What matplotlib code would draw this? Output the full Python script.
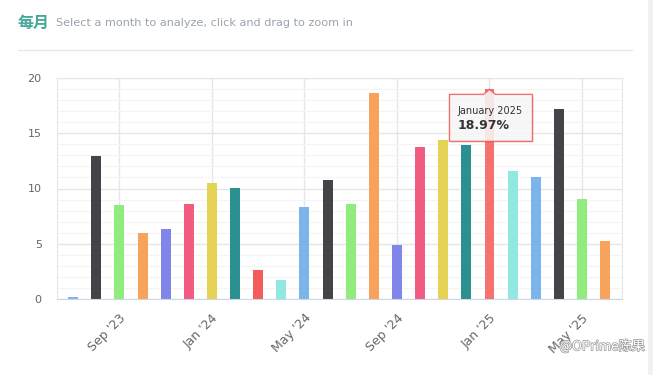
import matplotlib
matplotlib.use('Agg')
import matplotlib.pyplot as plt
import matplotlib.patheffects as pe
from matplotlib.patches import Polygon, Rectangle
from matplotlib.lines import Line2D
import numpy as np

# monthly values, Jul 2023 .. Jun 2025
months = ['July 2023', 'August 2023', 'September 2023', 'October 2023', 'November 2023',
          'December 2023', 'January 2024', 'February 2024', 'March 2024', 'April 2024',
          'May 2024', 'June 2024', 'July 2024', 'August 2024', 'September 2024',
          'October 2024', 'November 2024', 'December 2024', 'January 2025', 'February 2025',
          'March 2025', 'April 2025', 'May 2025', 'June 2025']
values = [0.2, 12.9, 8.55, 6.0, 6.35, 8.6, 10.5, 10.05, 2.65, 1.72, 8.35, 10.8,
          8.6, 18.65, 4.9, 13.8, 14.4, 13.9, 18.97, 11.6, 11.08, 17.2, 9.05, 5.25]
tick_pos = [2, 6, 10, 14, 18, 22]
tick_labels = ["Sep '23", "Jan '24", "May '24", "Sep '24", "Jan '25", "May '25"]
palette = ['#7cb5ec', '#434348', '#90ed7d', '#f7a35c', '#8085e9',
           '#f15c80', '#e4d354', '#2b908f', '#f45b5b', '#91e8e1']
hover_idx = 18

W, H = 653, 375
fig = plt.figure(figsize=(W / 100, H / 100), dpi=100)
fig.patch.set_facecolor('white')

ax = fig.add_axes([57 / W, 1 - 299 / H, (622 - 57) / W, (299 - 78) / H])
x = np.arange(len(values))
colors = [palette[i % len(palette)] for i in range(len(values))]
colors[hover_idx] = '#f7716e'
ax.bar(x, values, width=0.43, color=colors, zorder=3)

ax.set_xlim(-0.7, len(values) - 0.27)
ax.set_ylim(0, 20)
ax.set_yticks([0, 5, 10, 15, 20])
ax.set_yticks(np.arange(0, 21, 1), minor=True)
ax.set_xticks(tick_pos)
ax.set_xticklabels(tick_labels, rotation=45, ha='right', va='top',
                   rotation_mode='anchor', fontsize=9, color='#666666')
ax.tick_params(axis='x', length=0, pad=9)
ax.tick_params(axis='y', which='both', length=0, pad=11, labelsize=8, labelcolor='#666666')
ax.grid(axis='y', which='major', color='#e6e6e6', lw=1, zorder=0)
ax.grid(axis='y', which='minor', color='#f4f4f4', lw=0.8, zorder=0)
ax.grid(axis='x', which='major', color='#e6e6e6', lw=1, zorder=0)
for s in ['top', 'left', 'right']:
    ax.spines[s].set_color('#e6e6e6')
ax.spines['bottom'].set_color('#ccd6eb')
ax.spines['bottom'].set_zorder(4)

# header
fig.text(18 / W, 1 - 23 / H, '每月', fontsize=11.5, fontweight='bold', color='#45a99a',
         family=['Noto Sans CJK SC', 'DejaVu Sans'], va='center', ha='left')
fig.text(56 / W, 1 - 23 / H, 'Select a month to analyze, click and drag to zoom in',
         fontsize=8.1, color='#9aa3ad', va='center', ha='left')
fig.add_artist(Line2D([18 / W, 632 / W], [1 - 50 / H, 1 - 50 / H], color='#e8e8e8', lw=1))
fig.add_artist(Rectangle((648 / W, 0), 5 / W, 1, color='#f1f1f1', lw=0,
                         transform=fig.transFigure))

# tooltip for the hovered month
fig.canvas.draw()
tx, ty = ax.transData.transform((hover_idx, values[hover_idx]))
top = ty - 5
bot = ty - 52
left = tx - 40
right = tx + 43
pts = [(left, top), (tx - 6, top), (tx, ty), (tx + 6, top), (right, top),
       (right, bot), (left, bot)]
fig.add_artist(Polygon([(px + 1.5, py - 1.5) for px, py in pts], closed=True,
                       transform=None, facecolor='#000000', alpha=0.06, lw=0))
fig.add_artist(Polygon(pts, closed=True, transform=None, facecolor='#f8f8f8',
                       alpha=0.88, edgecolor='#f45b5b', lw=1))
fig.text((left + 8) / W, (ty - 22) / H, months[hover_idx], fontsize=7, color='#333333',
         va='center', ha='left')
fig.text((left + 8) / W, (ty - 36) / H, f'{values[hover_idx]:.2f}%', fontsize=9,
         fontweight='bold', color='#333333', va='center', ha='left')

# watermark
fig.text(645 / W, 1 - 346 / H, '@OPrime陈果', fontsize=9.5, color='white',
         family=['Noto Sans CJK SC', 'DejaVu Sans'], ha='right', va='center',
         path_effects=[pe.withStroke(linewidth=1.0, foreground='#999999')])

fig.savefig('out.png', dpi=100)
